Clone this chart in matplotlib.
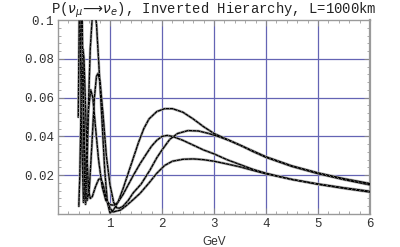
import matplotlib
matplotlib.use("Agg")
import matplotlib.pyplot as plt
from matplotlib.ticker import MultipleLocator, FixedLocator

# ---- data (E in GeV, probability) ----
a_E = [0.39, 0.41, 0.43, 0.45, 0.47, 0.49, 0.51, 0.53, 0.55, 0.58, 0.62, 0.66, 0.70, 0.74,
       0.79, 0.84, 0.90, 0.95, 1.00, 1.05, 1.10, 1.16, 1.25, 1.35, 1.45, 1.55, 1.65, 1.75,
       1.90, 2.05, 2.20, 2.40, 2.60, 2.80, 3.00, 3.25, 3.50, 4.00, 4.50, 5.00, 5.50, 6.00]
a_P = [0.050, 0.105, 0.140, 0.130, 0.090, 0.045, 0.015, 0.005, 0.012, 0.051, 0.085, 0.102, 0.106, 0.098,
       0.075, 0.051, 0.022, 0.006, 0.0005, 0.0015, 0.0035, 0.0065, 0.013, 0.021, 0.029, 0.037, 0.044, 0.049,
       0.0528, 0.0543, 0.0543, 0.0525, 0.049, 0.045, 0.0415, 0.0385, 0.0355, 0.0295, 0.0248, 0.0212, 0.0182, 0.0157]

b_E = [0.40, 0.44, 0.48, 0.52, 0.56, 0.60, 0.65, 0.70, 0.74, 0.77, 0.81, 0.87, 0.93, 1.00,
       1.07, 1.13, 1.18, 1.25, 1.35, 1.45, 1.60, 1.77, 1.90, 2.00, 2.15, 2.30, 2.50, 2.70,
       2.90, 3.10, 3.30, 3.50, 3.75, 4.00, 4.50, 5.00, 5.50, 6.00]
b_P = [0.160, 0.120, 0.070, 0.025, 0.007, 0.012, 0.035, 0.060, 0.071, 0.0725, 0.068, 0.050, 0.030, 0.015,
       0.006, 0.0032, 0.003, 0.004, 0.007, 0.011, 0.0155, 0.0227, 0.029, 0.033, 0.0385, 0.0415, 0.043, 0.0428,
       0.0415, 0.0398, 0.0378, 0.0355, 0.0322, 0.0292, 0.0245, 0.0208, 0.0177, 0.0150]

c_E = [0.40, 0.43, 0.46, 0.49, 0.52, 0.55, 0.59, 0.63, 0.67, 0.72, 0.78, 0.85, 0.92, 1.00,
       1.08, 1.15, 1.25, 1.35, 1.45, 1.58, 1.70, 1.80, 1.90, 2.00, 2.10, 2.20, 2.40, 2.60,
       2.80, 3.00, 3.25, 3.50, 3.75, 4.00, 4.50, 5.00, 5.50, 6.00]
c_P = [0.130, 0.090, 0.035, 0.006, 0.012, 0.032, 0.055, 0.064, 0.060, 0.045, 0.028, 0.014, 0.007, 0.0048,
       0.0045, 0.006, 0.010, 0.015, 0.020, 0.026, 0.031, 0.035, 0.038, 0.040, 0.0405, 0.040, 0.038, 0.0355,
       0.033, 0.031, 0.028, 0.0255, 0.023, 0.021, 0.0178, 0.0153, 0.0132, 0.0113]

d_E = [0.40, 0.42, 0.44, 0.46, 0.48, 0.50, 0.53, 0.56, 0.59, 0.62, 0.66, 0.72, 0.78, 0.82,
       0.87, 0.93, 1.00, 1.06, 1.12, 1.20, 1.30, 1.45, 1.58, 1.75, 1.90, 2.05, 2.20, 2.40,
       2.60, 2.80, 3.00, 3.25, 3.50, 3.75, 4.00, 4.50, 5.00, 5.50, 6.00]
d_P = [0.004, 0.020, 0.050, 0.075, 0.085, 0.080, 0.055, 0.028, 0.012, 0.008, 0.009, 0.014, 0.0178, 0.0185,
       0.015, 0.008, 0.003, 0.001, 0.0015, 0.002, 0.004, 0.0075, 0.0107, 0.016, 0.021, 0.025, 0.0272, 0.0282,
       0.0284, 0.0280, 0.0272, 0.0258, 0.0243, 0.0225, 0.0207, 0.0178, 0.0155, 0.0135, 0.0117]

curves = [(a_E, a_P), (b_E, b_P), (c_E, c_P), (d_E, d_P)]

x_ticks = [1, 2, 3, 4, 5, 6]
y_ticks = [0.02, 0.04, 0.06, 0.08, 0.1]
y_tick_labels = ["0.02", "0.04", "0.06", "0.08", "0.1"]

title = r"P($\nu_\mu\!\longrightarrow\!\nu_e$), Inverted Hierarchy, L=1000km"
x_label = "GeV"

# ---- figure ----
mono = ["Liberation Mono", "DejaVu Sans Mono"]
fig = plt.figure(figsize=(4.0, 2.47), dpi=100)
ax = fig.add_axes([0.145, 0.1336, 0.78, 0.7854])

for E, P in curves:
    ax.plot(E, P, color="#b8b8b8", lw=2.0, solid_capstyle="round", zorder=3)
    ax.plot(E, P, color="black", lw=1.0, zorder=4)
    ax.plot(E, P, color="#cccccc", lw=0.5, dashes=(1.0, 5.0), zorder=5)

ax.set_xlim(0, 6)
ax.set_ylim(0, 0.1)

ax.xaxis.set_major_locator(FixedLocator(x_ticks))
ax.yaxis.set_major_locator(FixedLocator(y_ticks))
ax.set_yticklabels(y_tick_labels)
ax.xaxis.set_minor_locator(MultipleLocator(0.2))
ax.yaxis.set_minor_locator(MultipleLocator(0.004))

grid_x = [v for v in x_ticks if v < 6]
grid_y = [v for v in y_ticks if v < 0.1]
for v in grid_x:
    ax.axvline(v, color="#6464b4", lw=0.9, zorder=1)
for v in grid_y:
    ax.axhline(v, color="#6464b4", lw=0.9, zorder=1)

for s in ax.spines.values():
    s.set_color("#9a9a9a")
    s.set_linewidth(1.0)
ax.spines["right"].set_linewidth(1.6)

ax.tick_params(which="both", direction="in", top=True, right=True, color="#888888")
ax.tick_params(which="major", length=4, width=0.7, pad=3)
ax.tick_params(which="minor", length=2, width=0.5)
for lab in ax.get_xticklabels() + ax.get_yticklabels():
    lab.set_fontfamily(mono)
    lab.set_fontsize(9)
    lab.set_color("#333333")

ax.set_title(title, fontfamily=mono, fontsize=10, color="#222222", pad=2)
ax.set_xlabel(x_label, fontfamily=["Liberation Sans", "DejaVu Sans"], fontsize=8.5,
              color="#333333", labelpad=4)

fig.savefig("out.png", dpi=100, facecolor="white")
